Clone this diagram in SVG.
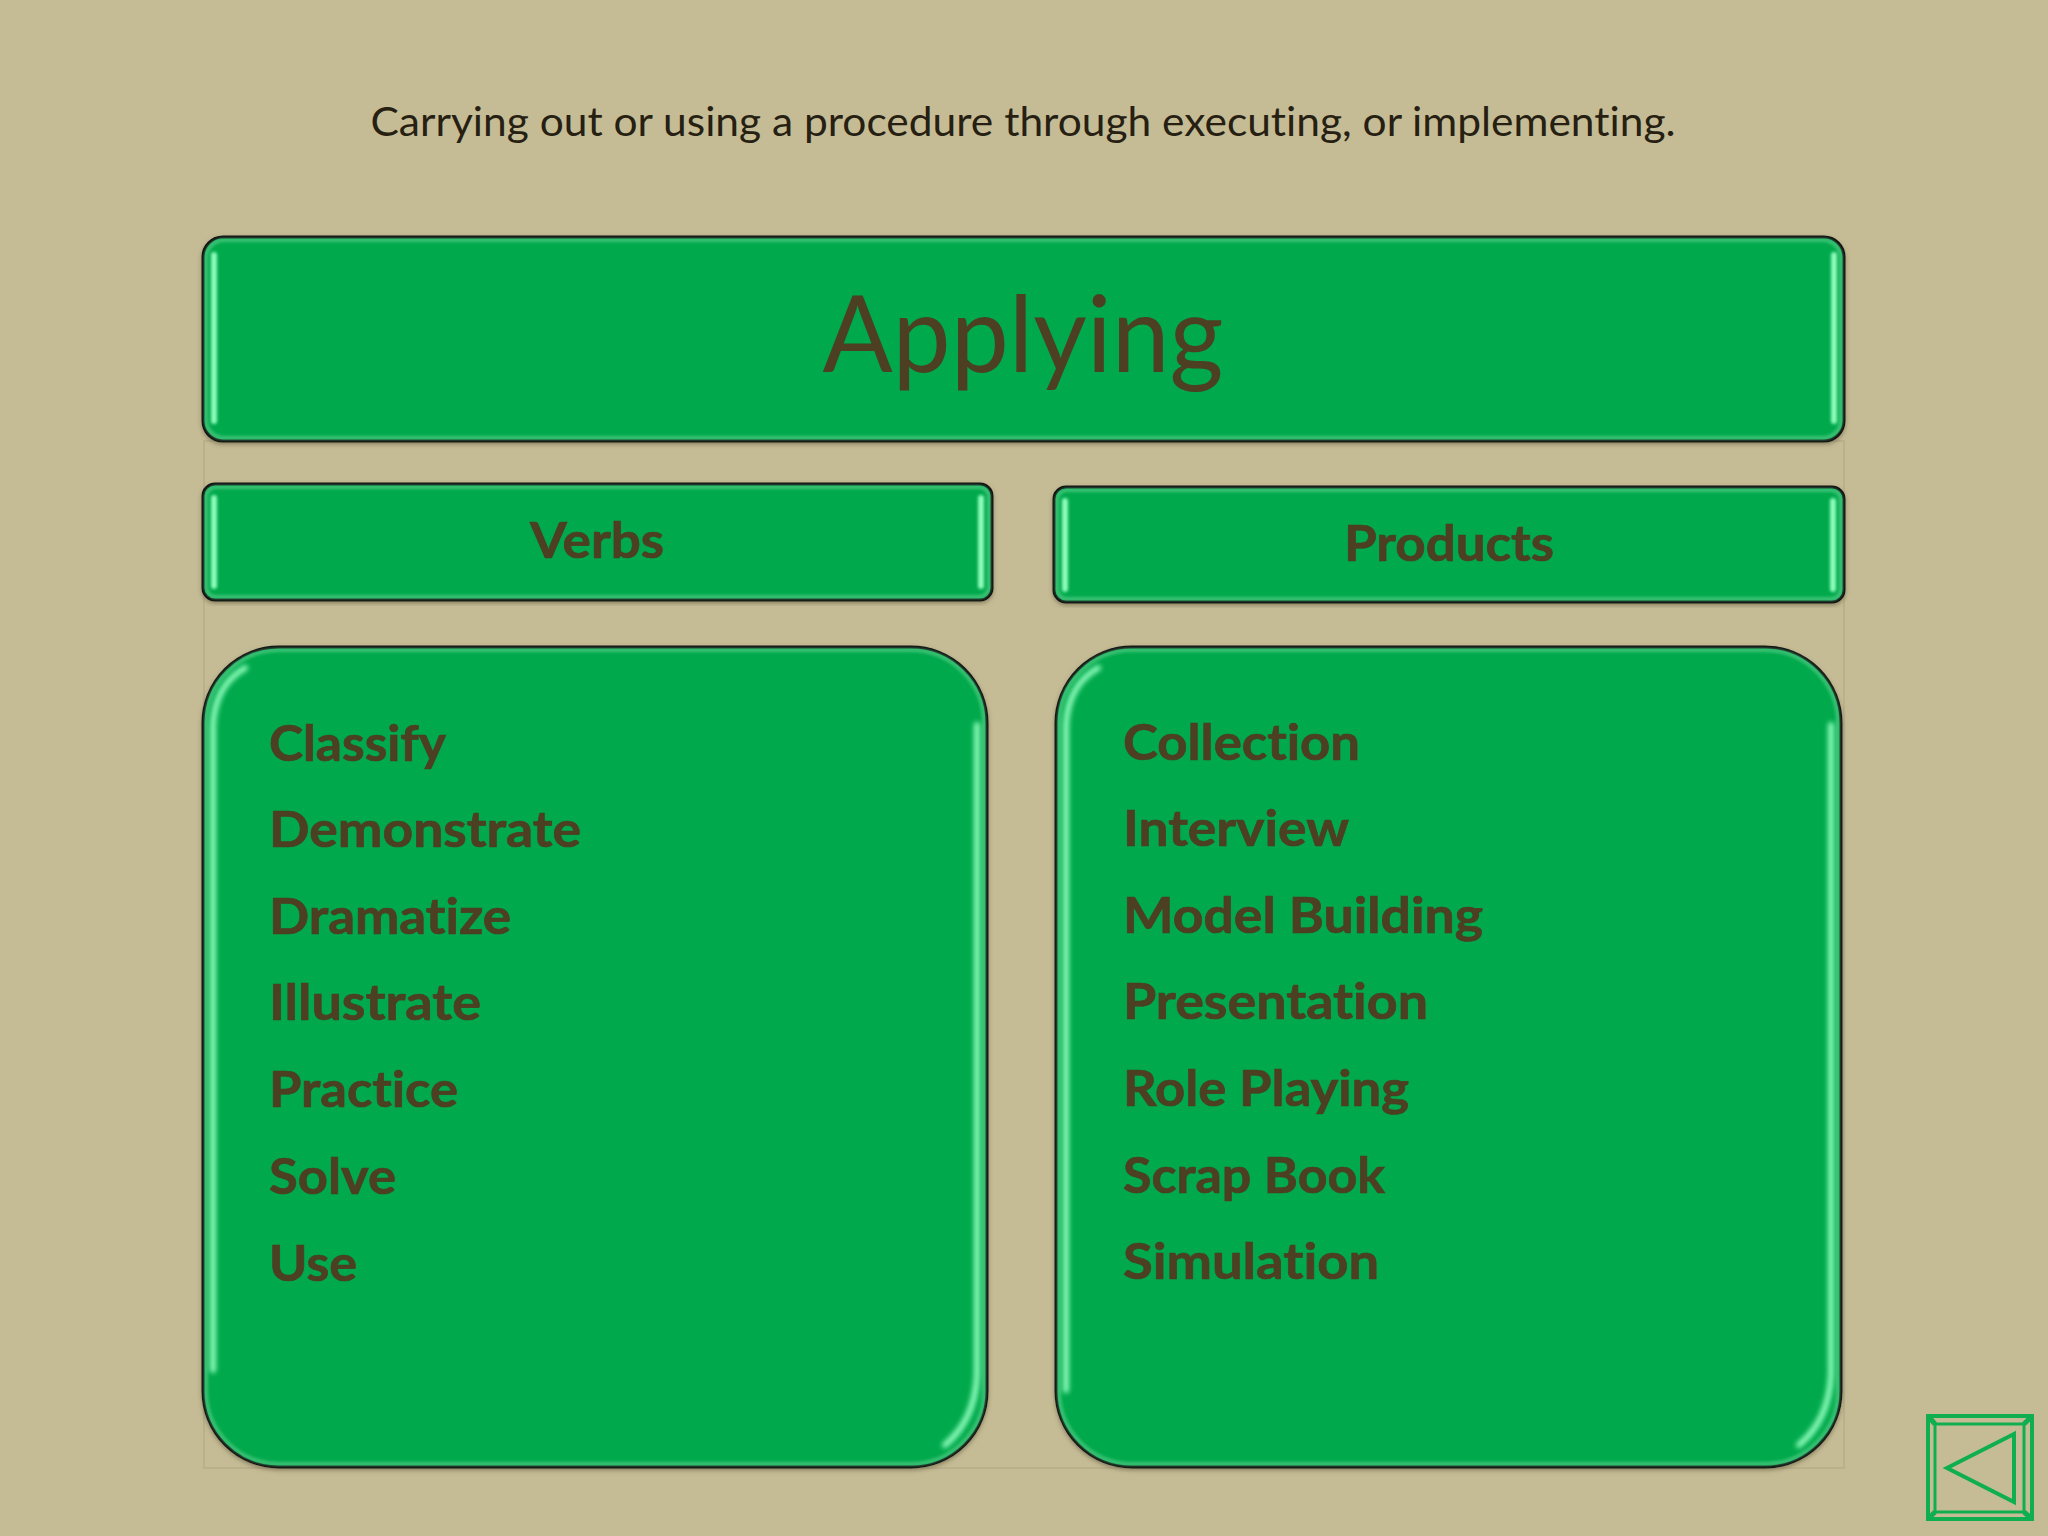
<svg xmlns="http://www.w3.org/2000/svg" width="2048" height="1536" viewBox="0 0 2048 1536">
<style>
.box{fill:#00a94c;stroke:#0c0c0c;stroke-width:3}
.rim{fill:none;stroke:#6fd79a;stroke-width:4;opacity:.55}
.hi{fill:none;stroke:#8dfcbb;stroke-width:6;stroke-linecap:round}
.t{font-family:Lato,"Open Sans",sans-serif;fill:#4c3f22;font-variant-ligatures:none}
.b{font-weight:700;font-size:50px;stroke:#4c3f22;stroke-width:.7}
.frame{fill:none;stroke:#aea582;stroke-width:1}
.nav{fill:none;stroke:#0fae50;stroke-width:4}
</style>
<defs>
<filter id="soft" x="-20%" y="-20%" width="140%" height="140%"><feGaussianBlur stdDeviation="1.8"/></filter>
<filter id="soft2" x="-20%" y="-20%" width="140%" height="140%"><feGaussianBlur stdDeviation="2.6"/></filter>
<filter id="sh" x="-5%" y="-5%" width="110%" height="110%"><feDropShadow dx="0" dy="2" stdDeviation="2" flood-color="#5b5236" flood-opacity=".55"/></filter>
</defs>
<rect width="2048" height="1536" fill="#c5bc96"/>
<rect class="frame" x="204" y="441" width="1640" height="1027"/>
<text class="t" x="1023" y="136" text-anchor="middle" font-size="41" textLength="1305" lengthAdjust="spacingAndGlyphs" style="fill:#261f12">Carrying out or using a procedure through executing, or implementing.</text>
<g id="node-applying">
<rect class="box" filter="url(#sh)" x="203" y="237" width="1641" height="204" rx="20"/>
<rect class="rim" filter="url(#soft)" x="206" y="240" width="1635" height="198" rx="18"/>
<path class="hi" filter="url(#soft)" d="M214 255V421M1834 255V421"/>
<text class="t" x="1023" y="372" text-anchor="middle" font-size="106" textLength="401" lengthAdjust="spacingAndGlyphs">Applying</text>
</g>
<g id="node-verbs">
<rect class="box" filter="url(#sh)" x="203" y="484" width="789" height="116" rx="12"/>
<rect class="rim" filter="url(#soft)" x="206" y="487" width="783" height="110" rx="10"/>
<path class="hi" filter="url(#soft)" d="M214 498V586M981 498V586"/>
<text class="t b" x="597" y="558" text-anchor="middle" textLength="134" lengthAdjust="spacingAndGlyphs">Verbs</text>
</g>
<g id="node-products">
<rect class="box" filter="url(#sh)" x="1054" y="487" width="790" height="115" rx="12"/>
<rect class="rim" filter="url(#soft)" x="1057" y="490" width="784" height="109" rx="10"/>
<path class="hi" filter="url(#soft)" d="M1065 501V589M1833 501V589"/>
<text class="t b" x="1449" y="561" text-anchor="middle" textLength="210" lengthAdjust="spacingAndGlyphs">Products</text>
</g>
<g id="node-verb-list">
<rect class="box" filter="url(#sh)" x="203" y="647" width="784" height="820" rx="76"/>
<rect class="rim" filter="url(#soft)" x="206" y="650" width="778" height="814" rx="73"/>
<path class="hi" filter="url(#soft2)" d="M213 1370V725Q215 685 245 668M977 725V1375Q975 1420 945 1445"/>
<text class="t b" x="269" y="761" textLength="177" lengthAdjust="spacingAndGlyphs">Classify</text>
<text class="t b" x="269" y="847" textLength="312" lengthAdjust="spacingAndGlyphs">Demonstrate</text>
<text class="t b" x="269" y="934" textLength="242" lengthAdjust="spacingAndGlyphs">Dramatize</text>
<text class="t b" x="269" y="1020" textLength="212" lengthAdjust="spacingAndGlyphs">Illustrate</text>
<text class="t b" x="269" y="1107" textLength="189" lengthAdjust="spacingAndGlyphs">Practice</text>
<text class="t b" x="269" y="1194" textLength="127" lengthAdjust="spacingAndGlyphs">Solve</text>
<text class="t b" x="269" y="1281" textLength="88" lengthAdjust="spacingAndGlyphs">Use</text>
</g>
<g id="node-product-list">
<rect class="box" filter="url(#sh)" x="1056" y="647" width="785" height="820" rx="76"/>
<rect class="rim" filter="url(#soft)" x="1059" y="650" width="779" height="814" rx="73"/>
<path class="hi" filter="url(#soft2)" d="M1066 1390V725Q1068 685 1098 668M1831 725V1375Q1829 1420 1799 1445"/>
<text class="t b" x="1123" y="760" textLength="237" lengthAdjust="spacingAndGlyphs">Collection</text>
<text class="t b" x="1123" y="846" textLength="226" lengthAdjust="spacingAndGlyphs">Interview</text>
<text class="t b" x="1123" y="933" textLength="360" lengthAdjust="spacingAndGlyphs">Model Building</text>
<text class="t b" x="1123" y="1019" textLength="305" lengthAdjust="spacingAndGlyphs">Presentation</text>
<text class="t b" x="1123" y="1106" textLength="286" lengthAdjust="spacingAndGlyphs">Role Playing</text>
<text class="t b" x="1123" y="1193" textLength="262" lengthAdjust="spacingAndGlyphs">Scrap Book</text>
<text class="t b" x="1123" y="1279" textLength="256" lengthAdjust="spacingAndGlyphs">Simulation</text>
</g>
<g id="node-back-button">
<rect class="nav" x="1928" y="1416" width="104" height="103"/>
<rect class="nav" x="1935" y="1424" width="89" height="88" style="stroke-width:3"/>
<path class="nav" d="M1928 1416L1935 1424M2032 1416L2024 1424M1928 1519L1935 1512M2032 1519L2024 1512" style="stroke-width:5"/>
<path class="nav" d="M1947 1468L2014 1434V1502Z"/>
</g>
<g id="connectors"/>
</svg>
